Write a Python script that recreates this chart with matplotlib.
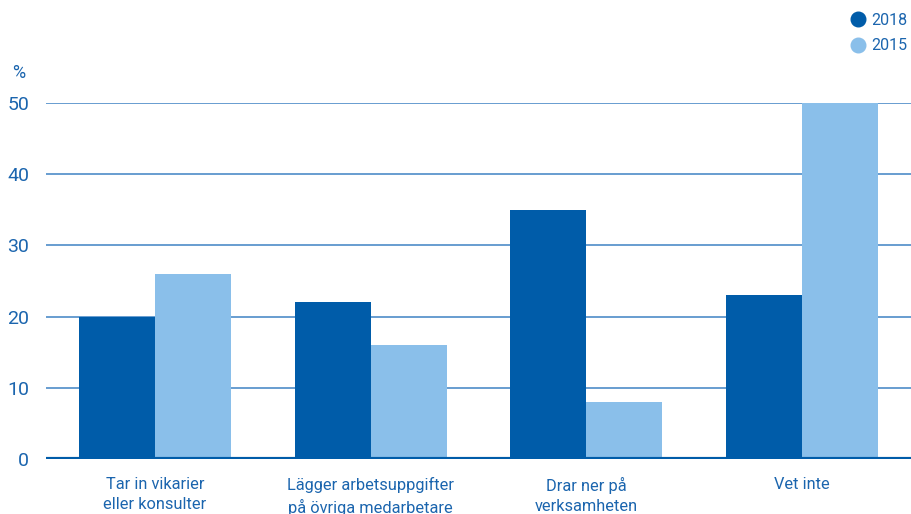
import numpy as np
import matplotlib.pyplot as plt
from matplotlib.lines import Line2D

categories = ["Tar in vikarier\neller konsulter",
              "Lägger arbetsuppgifter\npå övriga medarbetare",
              "Drar ner på\nverksamheten",
              "Vet inte"]
values_2018 = [20, 22, 35, 23]
values_2015 = [26, 16, 8, 50]
series_labels = ["2018", "2015"]
yticks = [0, 10, 20, 30, 40, 50]

dark = "#005CA9"
light = "#8ABFEA"
text_col = "#1B65AE"

plt.rcParams['font.family'] = ['Roboto', 'DejaVu Sans']

fig = plt.figure(figsize=(9.12, 5.14), dpi=100)
ax = fig.add_axes([0.0504, 0.107, 0.9496, 0.6926])

x = np.arange(len(categories))
w = 0.352
ax.bar(x - w / 2, values_2018, w, color=dark, zorder=3)
ax.bar(x + w / 2, values_2015, w, color=light, zorder=3)

ax.set_xlim(-0.505, 3.51)
ax.set_ylim(0, 50)
ax.set_yticks(yticks)
ax.set_yticklabels([str(t) for t in yticks], fontsize=14, color=text_col)
for t in yticks[1:]:
    ax.axhline(t, color="#3E82C4", lw=1.1, zorder=1)
ax.axhline(0, color=dark, lw=3, zorder=4)

ax.set_xticks(x)
ax.set_xticklabels(categories, fontsize=11.8, color=text_col, linespacing=1.4)
ax.tick_params(axis="both", length=0)
ax.tick_params(axis="x", pad=13)
ax.tick_params(axis="y", pad=12)
for s in ax.spines.values():
    s.set_visible(False)

fig.text(12 / 912, 1 - 73 / 514, "%", fontsize=13, color=text_col, va="center")

handles = [Line2D([], [], marker="o", ls="", ms=10.5, color=c) for c in (dark, light)]
fig.legend(handles, series_labels, loc="upper right", bbox_to_anchor=(1.0, 0.984),
           frameon=False, handletextpad=0.0, labelspacing=0.65, fontsize=11.5,
           labelcolor=text_col, borderaxespad=0.1, borderpad=0.2, handlelength=1.6)

fig.savefig("out.png", dpi=100)
